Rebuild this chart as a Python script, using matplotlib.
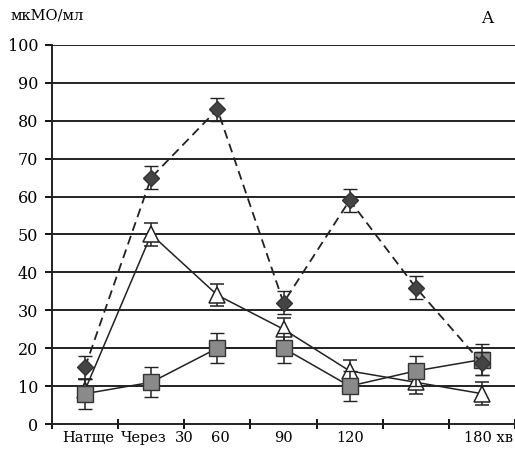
import numpy as np
import matplotlib
matplotlib.use("Agg")
import matplotlib.pyplot as plt

plt.rcParams['font.family'] = ['DejaVu Serif']

# data
x_labels = ["Натще", "Через", "30", "60", "90", "120", "180 хв"]
x_label_pos = [0.05, 0.88, 1.5, 2.05, 3.0, 4.0, 6.1]
diamond = [15, 65, 83, 32, 59, 36, 16]
diamond_err = [3, 3, 3, 3, 3, 3, 3]
triangle = [9, 50, 34, 25, 14, 11, 8]
triangle_err = [3, 3, 3, 3, 3, 3, 3]
square = [8, 11, 20, 20, 10, 14, 17]
square_err = [4, 4, 4, 4, 4, 4, 4]

x = np.arange(len(diamond))

fig = plt.figure(figsize=(5.15, 4.53), dpi=100)
ax = fig.add_axes([0.101, 0.064, 0.899, 0.837])

for yv in range(10, 101, 10):
    ax.axhline(yv, color='#222222', lw=1.4, zorder=1)

ax.errorbar(x, triangle, yerr=triangle_err, color='#222222', lw=1.1,
            marker='^', ms=11, mfc='white', mec='#222222', mew=1.1,
            capsize=5, elinewidth=1.1, zorder=3)
ax.errorbar(x, square, yerr=square_err, color='#222222', lw=1.1,
            marker='s', ms=11, mfc='#8a8a8a', mec='#333333', mew=1.0,
            capsize=5, elinewidth=1.1, zorder=4)
ax.errorbar(x, diamond, yerr=diamond_err, color='#222222', lw=1.3, ls=(0, (5, 3)),
            marker='D', ms=8, mfc='#444444', mec='#333333',
            capsize=5, elinewidth=1.1, zorder=5)

ax.set_xlim(-0.5, 6.5)
ax.set_ylim(0, 100)
ax.set_yticks(range(0, 101, 10))
ax.set_xticks(np.arange(-0.5, 6.6, 1))
ax.set_xticklabels([])
ax.tick_params(axis='y', direction='out', length=5, width=1.3, labelsize=11.5, pad=5)
ax.tick_params(axis='x', direction='inout', length=7, width=1.3)
for s in ['top', 'right']:
    ax.spines[s].set_visible(False)
for s in ['left', 'bottom']:
    ax.spines[s].set_linewidth(1.4)
    ax.spines[s].set_color('#222222')

for lab, p in zip(x_labels, x_label_pos):
    ax.text(p, -1.8, lab, ha='center', va='top', fontsize=10.5)

fig.text(0.02, 0.965, "мкМО/мл", fontsize=10.5, va='center', ha='left')
fig.text(0.935, 0.96, "A", fontsize=12, va='center', ha='left')

fig.savefig("out.png", dpi=100)
